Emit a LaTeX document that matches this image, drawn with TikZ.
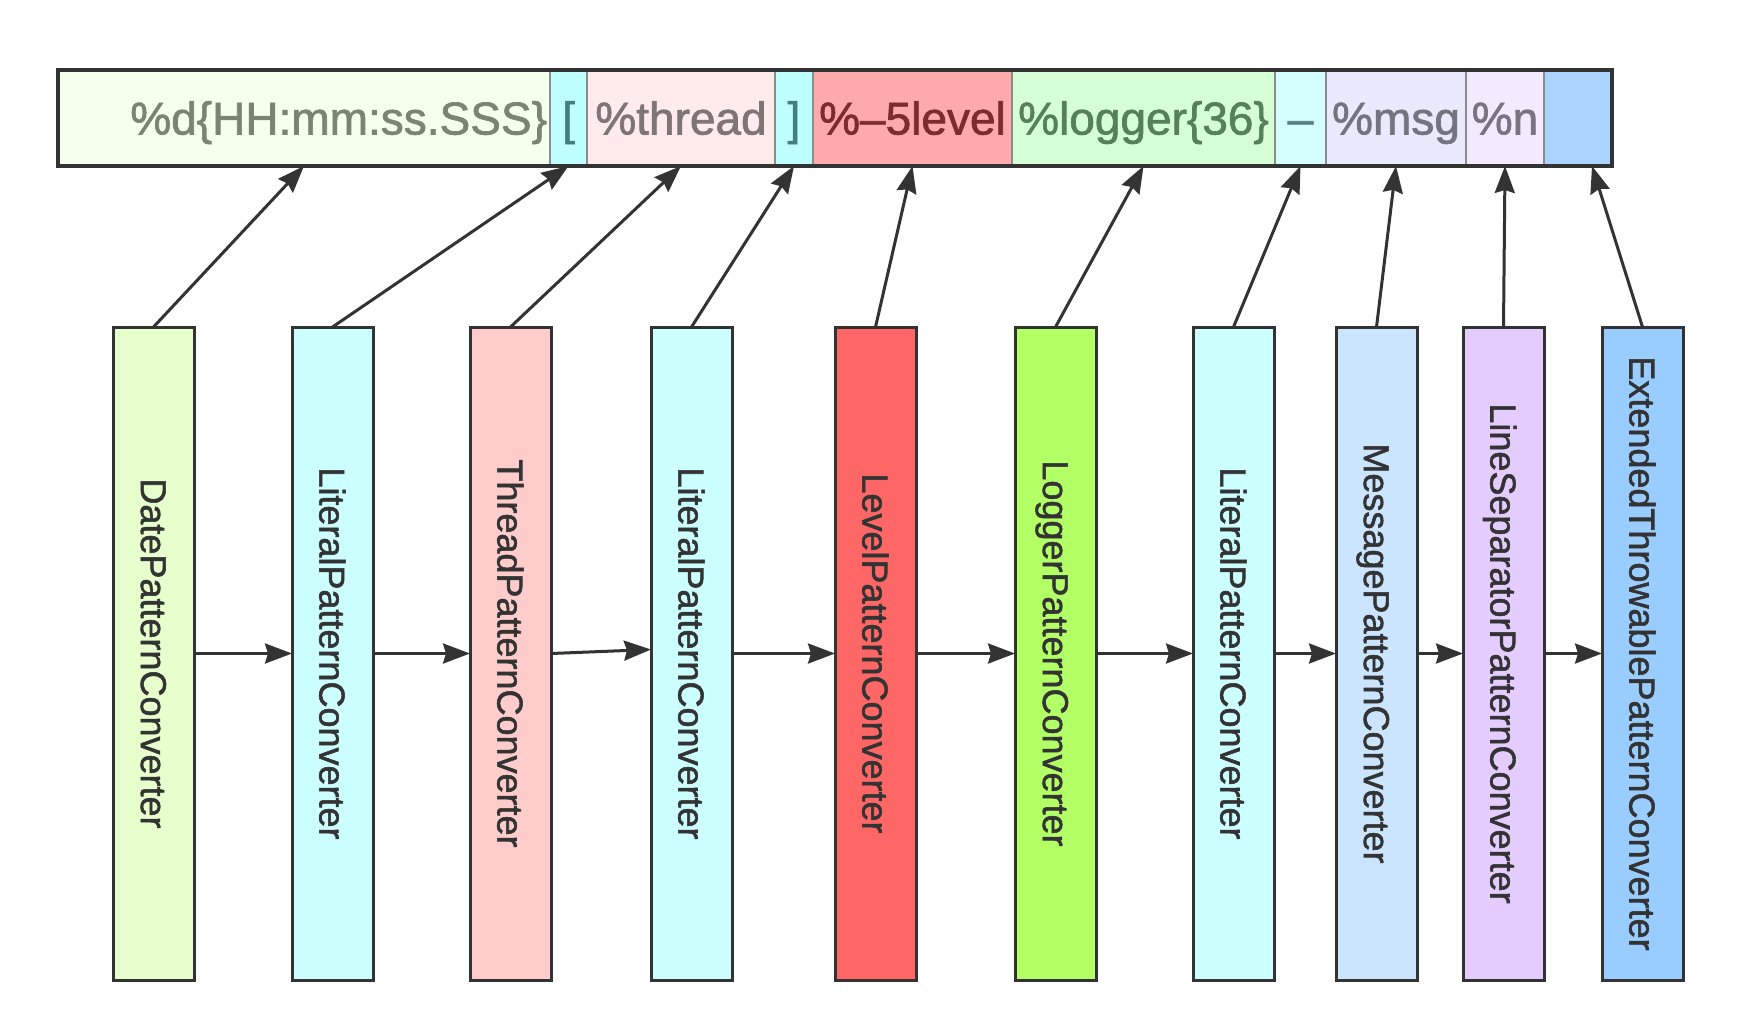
\documentclass[tikz,border=0pt]{standalone}
\usepackage{graphicx}
\usepackage{fontspec}
\setmainfont{Liberation Sans}
\newfontfamily\heavysans{Liberation Sans}[FakeBold=1.5,Ligatures=TeX]
\usetikzlibrary{arrows.meta}
\definecolor{edge}{HTML}{333333}
\definecolor{datefill}{HTML}{E6FFCC}
\definecolor{literalfill}{HTML}{CCFFFF}
\definecolor{threadfill}{HTML}{FFCCCC}
\definecolor{levelfill}{HTML}{FF6666}
\definecolor{loggerfill}{HTML}{B3FF66}
\definecolor{msgfill}{HTML}{CCE5FF}
\definecolor{lsepfill}{HTML}{E5CCFF}
\definecolor{throwfill}{HTML}{99CCFF}
\definecolor{dateseg}{HTML}{F5FFEB}
\definecolor{bracketseg}{HTML}{C0FFFF}
\definecolor{threadseg}{HTML}{FFEAEC}
\definecolor{levelseg}{HTML}{FFAAAA}
\definecolor{loggerseg}{HTML}{D5FFD5}
\definecolor{dashseg}{HTML}{D5FFFF}
\definecolor{msgseg}{HTML}{EAEAFF}
\definecolor{nlseg}{HTML}{F4EAFF}
\definecolor{throwseg}{HTML}{AAD4FF}
\definecolor{datetext}{HTML}{7A8470}
\definecolor{brackettext}{HTML}{408080}
\definecolor{threadtext}{HTML}{7F7476}
\definecolor{leveltext}{HTML}{802B2B}
\definecolor{loggertext}{HTML}{568056}
\definecolor{dashtext}{HTML}{5A8080}
\definecolor{msgtext}{HTML}{747480}
\definecolor{nltext}{HTML}{7A7480}
\newcommand{\vlabel}[1]{\rotatebox{-90}{\raisebox{0pt}[\height][0pt]{#1}}}

\begin{document}
\begin{tikzpicture}[x=1pt,y=-1pt,
  seg/.style={draw=black!45,line width=2.5pt,minimum height=96pt,inner sep=0pt,outer sep=0pt,
    anchor=west,text height=33pt,text depth=0pt,font=\heavysans\fontsize{46}{55}\selectfont},
  conv/.style={draw=edge,line width=3pt,minimum width=81pt,minimum height=653pt,
    inner sep=0pt,outer sep=0pt,text=edge,font=\heavysans\fontsize{36}{43}\selectfont},
  link/.style={draw=edge,line width=3pt,-{Stealth[length=27pt,width=20pt,inset=3pt]}}]
\useasboundingbox (0,0) rectangle (1752,1020);

\node[seg,fill=dateseg,text=datetext,minimum width=492pt,inner xsep=3pt,text width=486pt,align=right] (s1) at (58,118) {\%d\{HH:mm:ss.SSS\}};
\node[seg,fill=bracketseg,text=brackettext,minimum width=37pt] (s2) at (s1.east) {[};
\node[seg,fill=threadseg,text=threadtext,minimum width=188pt] (s3) at (s2.east) {\%thread};
\node[seg,fill=bracketseg,text=brackettext,minimum width=38pt] (s4) at (s3.east) {]};
\node[seg,fill=levelseg,text=leveltext,minimum width=199pt] (s5) at (s4.east) {\%–5level};
\node[seg,fill=loggerseg,text=loggertext,minimum width=263pt] (s6) at (s5.east) {\%logger\{36\}};
\node[seg,fill=dashseg,text=dashtext,minimum width=51pt] (s7) at (s6.east) {–};
\node[seg,fill=msgseg,text=msgtext,minimum width=140pt] (s8) at (s7.east) {\%msg};
\node[seg,fill=nlseg,text=nltext,minimum width=78pt] (s9) at (s8.east) {\%n};
\node[seg,fill=throwseg,minimum width=68pt] (s10) at (s9.east) {};
\draw[draw=edge,line width=3.5pt] (s1.north west) rectangle (s10.south east);

\node[conv,fill=datefill] (b1) at (153.5,653.5) {\vlabel{DatePatternConverter}};
\node[conv,fill=literalfill] (b2) at (332.5,653.5) {\vlabel{LiteralPatternConverter}};
\node[conv,fill=threadfill] (b3) at (510.5,653.5) {\vlabel{ThreadPatternConverter}};
\node[conv,fill=literalfill] (b4) at (691.5,653.5) {\vlabel{LiteralPatternConverter}};
\node[conv,fill=levelfill] (b5) at (875.5,653.5) {\vlabel{LevelPatternConverter}};
\node[conv,fill=loggerfill] (b6) at (1055.5,653.5) {\vlabel{LoggerPatternConverter}};
\node[conv,fill=literalfill] (b7) at (1233.5,653.5) {\vlabel{LiteralPatternConverter}};
\node[conv,fill=msgfill] (b8) at (1376.5,653.5) {\vlabel{MessagePatternConverter}};
\node[conv,fill=lsepfill] (b9) at (1503.5,653.5) {\vlabel{LineSeparatorPatternConverter}};
\node[conv,fill=throwfill] (b10) at (1642.5,653.5) {\vlabel{ExtendedThrowablePatternConverter}};

\draw[link] (b1.north) -- (s1.south);
\draw[link] (b2.north) -- (s2.south);
\draw[link] (b3.north) -- (s3.south);
\draw[link] (b4.north) -- (s4.south);
\draw[link] (b5.north) -- (s5.south);
\draw[link] (b6.north) -- (s6.south);
\draw[link] (b7.north) -- (s7.south);
\draw[link] (b8.north) -- (s8.south);
\draw[link] (b9.north) -- (s9.south);
\draw[link] (b10.north) -- ([xshift=14pt]s10.south);

\draw[link] (b1.east) -- (b2.west);
\draw[link] (b2.east) -- (b3.west);
\draw[link] (b3.east) -- ([yshift=4pt]b4.west);
\draw[link] (b4.east) -- (b5.west);
\draw[link] (b5.east) -- (b6.west);
\draw[link] (b6.east) -- (b7.west);
\draw[link] (b7.east) -- (b8.west);
\draw[link] (b8.east) -- (b9.west);
\draw[link] (b9.east) -- (b10.west);
\end{tikzpicture}
\end{document}
